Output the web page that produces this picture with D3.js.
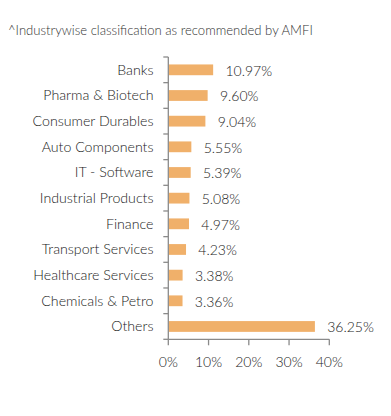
<!DOCTYPE html>
<html>
<head>
<meta charset="utf-8">
<script src="https://cdn.jsdelivr.net/npm/d3@7"></script>
<style>
html,body{margin:0;padding:0;background:#fff;}
svg{display:block;font-family:Lato, "Open Sans", sans-serif;}
</style>
</head>
<body>
<svg id="chart" width="391" height="416"></svg>
<script>
const categories = ["Banks","Pharma & Biotech","Consumer Durables","Auto Components","IT - Software","Industrial Products","Finance","Transport Services","Healthcare Services","Chemicals & Petro","Others"];
const values = [10.97,9.60,9.04,5.55,5.39,5.08,4.97,4.23,3.38,3.36,36.25];
const valueLabels = ["10.97%","9.60%","9.04%","5.55%","5.39%","5.08%","4.97%","4.23%","3.38%","3.36%","36.25%"];
const xTicks = [0,10,20,30,40];
const title = "^Industrywise classification as recommended by AMFI";

const svg = d3.select("#chart");
const mLeft = 168.3, mRight = 329.3, mTop = 57, mBottom = 339.3;

svg.append("text").attr("x",8).attr("y",34.5).attr("font-size",13.1).attr("font-weight",300).attr("fill","#333").text(title);

const x = d3.scaleLinear().domain([0,40]).range([mLeft,mRight]);
const y = d3.scaleBand().domain(categories).range([mTop,mBottom]).paddingInner(0.58).paddingOuter(0.29);

const axisColor = "#8a8a8a";
const g = svg.append("g");
g.append("line").attr("x1",mLeft).attr("x2",mLeft).attr("y1",mTop).attr("y2",mBottom).attr("stroke",axisColor).attr("stroke-width",1.3);
const step = (mBottom-mTop)/categories.length;
d3.range(categories.length+1).forEach(i=>{
  const yy = mTop + i*step;
  g.append("line").attr("x1",mLeft-5).attr("x2",mLeft).attr("y1",yy).attr("y2",yy).attr("stroke",axisColor).attr("stroke-width",1.3);
});
g.append("line").attr("x1",mLeft).attr("x2",mRight).attr("y1",mBottom).attr("y2",mBottom).attr("stroke",axisColor).attr("stroke-width",1.3);
xTicks.forEach(t=>{
  g.append("line").attr("x1",x(t)).attr("x2",x(t)).attr("y1",mBottom).attr("y2",mBottom+6).attr("stroke",axisColor).attr("stroke-width",1.3);
  g.append("text").attr("x",x(t)).attr("y",366.5).attr("text-anchor","middle").attr("font-size",14).attr("font-weight",300).attr("fill","#222").text(t+"%");
});

svg.append("g").selectAll("text").data(categories).join("text")
  .attr("x",153.5).attr("y",d=>y(d)+y.bandwidth()/2+4.8)
  .attr("text-anchor","end").attr("font-size",14.2).attr("font-weight",300).attr("fill","#1a1a1a").text(d=>d);

svg.append("g").selectAll("rect").data(values).join("rect")
  .attr("x",x(0)+0.7).attr("y",(d,i)=>y(categories[i]))
  .attr("width",d=>x(d)-x(0)).attr("height",y.bandwidth())
  .attr("fill","#F0B06A");

svg.append("g").selectAll("text").data(values).join("text")
  .attr("x",d=>x(d)+13).attr("y",(d,i)=>y(categories[i])+y.bandwidth()/2+5.8)
  .attr("font-size",14).attr("font-weight",300).attr("fill","#1a1a1a").text((d,i)=>valueLabels[i]);
</script>
</body>
</html>
